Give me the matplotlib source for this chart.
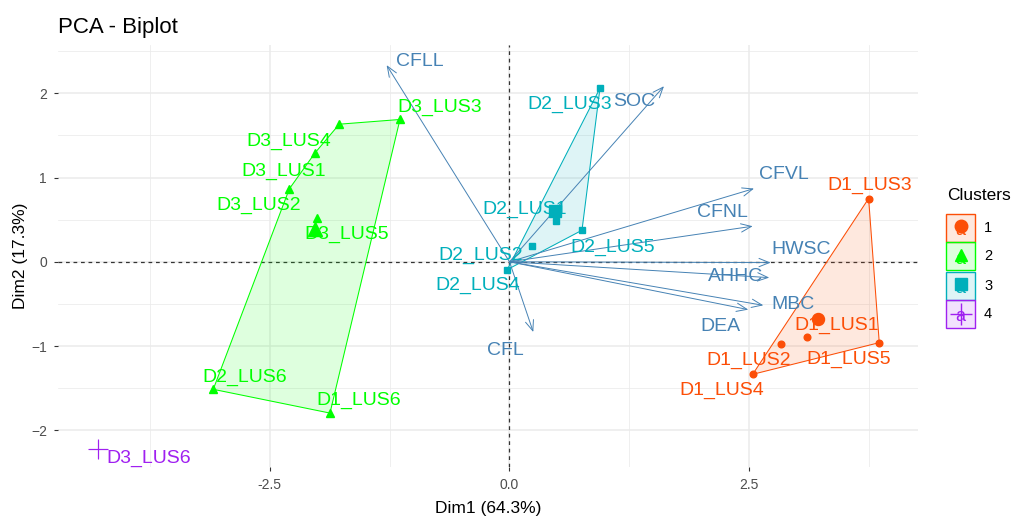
import numpy as np
import matplotlib
matplotlib.use("Agg")
import matplotlib.pyplot as plt
from matplotlib.patches import Polygon, Rectangle

plt.rcParams['font.family'] = ['Liberation Sans', 'DejaVu Sans']

# ---------------- data ----------------
sample_names = ["D1_LUS1", "D1_LUS2", "D1_LUS3", "D1_LUS4", "D1_LUS5",
                "D2_LUS1", "D2_LUS2", "D2_LUS3", "D2_LUS4", "D2_LUS5",
                "D3_LUS1", "D3_LUS2", "D3_LUS3", "D3_LUS4", "D3_LUS5",
                "D2_LUS6", "D1_LUS6", "D3_LUS6"]
dim1 = [3.105, 2.828, 3.745, 2.536, 3.856,
        0.485, 0.235, 0.944, -0.023, 0.756,
        -2.028, -2.296, -1.142, -1.775, -2.010,
        -3.089, -1.872, -4.294]
dim2 = [-0.893, -0.972, 0.751, -1.336, -0.960,
        0.485, 0.184, 2.061, -0.093, 0.374,
        1.292, 0.865, 1.689, 1.633, 0.525,
        -1.514, -1.796, -2.219]
clusters = [1, 1, 1, 1, 1,
            3, 3, 3, 3, 3,
            2, 2, 2, 2, 2,
            2, 2, 4]

var_names = ["CFLL", "SOC", "CFVL", "CFNL", "HWSC", "AHHC", "MBC", "DEA", "CFL"]
var_dim1 = [-1.281, 1.611, 2.550, 2.536, 2.724, 2.709, 2.647, 2.490, 0.248]
var_dim2 = [2.334, 2.084, 0.869, 0.422, -0.010, -0.188, -0.517, -0.568, -0.834]

cluster_levels = [1, 2, 3, 4]
x_ticks = [-2.5, 0.0, 2.5]
y_ticks = [-2, -1, 0, 1, 2]

# ---------------- style / layout ----------------
colors = {1: "#FC4E07", 2: "#00FF00", 3: "#00AFBB", 4: "#A020F0"}
markers = {1: "o", 2: "^", 3: "s", 4: "+"}
msize = {1: 4.8, 2: 5.2, 3: 4.8, 4: 13}
var_color = "#4682B4"

# label offsets (pixels, right/up), emulating ggrepel placement
sample_off = {
    "D3_LUS3": (40, 12), "D3_LUS4": (-51, -17), "D3_LUS1": (-31, -18),
    "D3_LUS2": (-31, -17), "D3_LUS5": (30, -17), "D2_LUS6": (31, 12),
    "D1_LUS6": (29, 13), "D3_LUS6": (51, -10), "D1_LUS3": (1, 13),
    "D1_LUS1": (29, 12), "D1_LUS2": (-32, -17), "D1_LUS5": (-31, -17),
    "D1_LUS4": (-31, -16), "D2_LUS3": (-30, -16.5), "D2_LUS1": (-31.5, 12),
    "D2_LUS5": (31, -17.5), "D2_LUS2": (-51, -9.5), "D2_LUS4": (-30, -15.5),
}
var_off = {
    "CFLL": (33, 3.5), "SOC": (-30, -15.5), "CFVL": (30, 14), "CFNL": (-30, 13.5),
    "HWSC": (30, 13), "AHHC": (-34, 1), "MBC": (30, 0.5), "DEA": (-28, -17),
    "CFL": (-28, -18),
}

W, H = 1013, 519
fig = plt.figure(figsize=(W / 100, H / 100), dpi=100)
L, R, T, B = 58, 918, 45, 467
ax = fig.add_axes([L / W, 1 - B / H, (R - L) / W, (B - T) / H])
ax.set_xlim(-4.708, 4.260)
ax.set_ylim(-2.436, 2.573)

for s in ax.spines.values():
    s.set_visible(False)
ax.set_xticks(x_ticks)
ax.set_xticklabels(["-2.5", "0.0", "2.5"])
ax.set_yticks(y_ticks)
ax.set_xticks([-3.75, -1.25, 1.25, 3.75], minor=True)
ax.set_yticks([-1.5, -0.5, 0.5, 1.5, 2.5], minor=True)
ax.grid(which="major", color="#EBEBEB", linewidth=1.1)
ax.grid(which="minor", color="#EBEBEB", linewidth=0.55)
ax.set_axisbelow(True)
ax.tick_params(which="major", length=3, width=0.8, color="#333333",
               labelcolor="#4D4D4D", labelsize=10, pad=5)
ax.tick_params(which="minor", length=0)

ax.axhline(0, color="#333333", linestyle=(0, (3, 3)), linewidth=0.9, zorder=1)
ax.axvline(0, color="#333333", linestyle=(0, (3, 3)), linewidth=0.9, zorder=1)

x = np.array(dim1)
y = np.array(dim2)
cl = np.array(clusters)


def convex_hull(pts):
    pts = sorted(set(map(tuple, pts)))
    if len(pts) <= 2:
        return pts

    def cross(o, a, b):
        return (a[0] - o[0]) * (b[1] - o[1]) - (a[1] - o[1]) * (b[0] - o[0])
    lower, upper = [], []
    for p in pts:
        while len(lower) >= 2 and cross(lower[-2], lower[-1], p) <= 0:
            lower.pop()
        lower.append(p)
    for p in reversed(pts):
        while len(upper) >= 2 and cross(upper[-2], upper[-1], p) <= 0:
            upper.pop()
        upper.append(p)
    return lower[:-1] + upper[:-1]


for c in cluster_levels:
    m = cl == c
    pts = np.column_stack([x[m], y[m]])
    if len(pts) >= 3:
        hull = convex_hull(pts)
        ax.add_patch(Polygon(hull, closed=True, facecolor=colors[c], alpha=0.13,
                             edgecolor="none", zorder=2))
        ax.add_patch(Polygon(hull, closed=True, facecolor="none",
                             edgecolor=colors[c], linewidth=0.75, zorder=3))

# variable arrows
for name, vx, vy in zip(var_names, var_dim1, var_dim2):
    ax.annotate("", xy=(vx, vy), xytext=(0, 0),
                arrowprops=dict(arrowstyle="->,head_length=0.75,head_width=0.3",
                                color=var_color, linewidth=0.7,
                                shrinkA=0, shrinkB=0), zorder=4)
    dx, dy = var_off[name]
    ax.annotate(name, xy=(vx, vy), xytext=(dx, dy), textcoords="offset pixels",
                ha="center", va="center", fontsize=14, color=var_color, zorder=6)

# points
for c in cluster_levels:
    m = cl == c
    if c == 4:
        ax.plot(x[m], y[m], linestyle="none", marker="+", markersize=13,
                markeredgewidth=0.8, color=colors[c], zorder=5)
    else:
        ax.plot(x[m], y[m], linestyle="none", marker=markers[c],
                markersize=msize[c], color=colors[c], zorder=5)
    # centroid
    cx, cy = x[m].mean(), y[m].mean()
    if c == 4:
        ax.plot([cx], [cy], marker="+", markersize=15, markeredgewidth=0.8,
                color=colors[c], zorder=5)
    else:
        ax.plot([cx], [cy], marker=markers[c], markersize=msize[c] * 1.8,
                color=colors[c], zorder=5)

for name, px, py, c in zip(sample_names, x, y, cl):
    dx, dy = sample_off[name]
    ax.annotate(name, xy=(px, py), xytext=(dx, dy), textcoords="offset pixels",
                ha="center", va="center", fontsize=14, color=colors[c], zorder=6)

# axis titles and title
fig.text((L + R) / 2 / W, 1 - 508 / H, "Dim1 (64.3%)", ha="center", va="center",
         fontsize=12.5, color="black")
fig.text(20 / W, 1 - (T + B) / 2 / H, "Dim2 (17.3%)", ha="center", va="center",
         rotation=90, fontsize=12.5, color="black")
fig.text(L / W, 1 - 33 / H, "PCA - Biplot", ha="left", va="baseline",
         fontsize=16, color="black")

# legend (pixel coordinates)
lax = fig.add_axes([0, 0, 1, 1])
lax.set_xlim(0, W)
lax.set_ylim(H, 0)
lax.axis("off")
lax.patch.set_visible(False)
lax.text(947, 196, "Clusters", ha="left", va="center", fontsize=12.5, color="black")
key_y = [227.5, 256, 285.5, 313.5]
for c, ky in zip(cluster_levels, key_y):
    lax.add_patch(Rectangle((946, ky - 14), 28.5, 28, facecolor=colors[c], alpha=0.13,
                            edgecolor="none"))
    lax.add_patch(Rectangle((946, ky - 14), 28.5, 28, facecolor="none",
                            edgecolor=colors[c], linewidth=1.0))
    lax.text(960.5, ky + 3, "a", ha="center", va="center", fontsize=13,
             color=colors[c])
    if c == 4:
        lax.plot([960.5], [ky], marker="+", markersize=16, markeredgewidth=1.0,
                 color=colors[c])
    else:
        lax.plot([960.5], [ky - 1.5], marker=markers[c], markersize=9,
                 color=colors[c])
    lax.text(984, ky, str(c), ha="left", va="center", fontsize=10.5, color="black")

fig.savefig("out.png", dpi=100)
